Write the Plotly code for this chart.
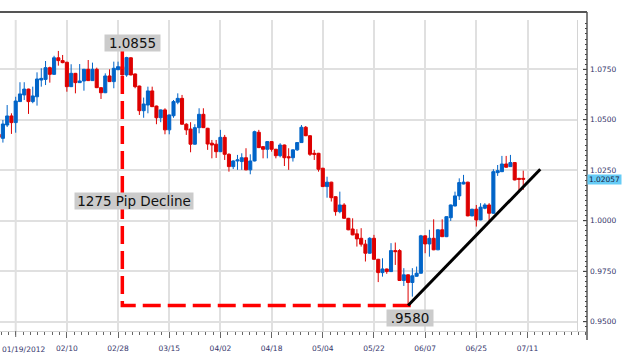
import plotly.graph_objects as go

# ---------------- data ----------------
bar_index = list(range(-4, 120))

opens = [1.0428, 1.0408, 1.0474, 1.0519, 1.0486, 1.0590, 1.0623, 1.0652, 1.0590, 1.0614,
         1.0697, 1.0700, 1.0758, 1.0725, 1.0807, 1.0793, 1.0785, 1.0664, 1.0730, 1.0684,
         1.0692, 1.0750, 1.0694, 1.0750, 1.0659, 1.0634, 1.0717, 1.0689, 1.0748, 1.0763,
         1.0722, 1.0807, 1.0727, 1.0667, 1.0545, 1.0573, 1.0643, 1.0568, 1.0510, 1.0549,
         1.0450, 1.0520, 1.0587, 1.0606, 1.0478, 1.0454, 1.0379, 1.0461, 1.0527, 1.0458,
         1.0384, 1.0379, 1.0342, 1.0413, 1.0329, 1.0268, 1.0296, 1.0293, 1.0312, 1.0252,
         1.0296, 1.0438, 1.0367, 1.0354, 1.0392, 1.0354, 1.0322, 1.0375, 1.0317, 1.0312,
         1.0351, 1.0387, 1.0463, 1.0421, 1.0334, 1.0334, 1.0260, 1.0169, 1.0191, 1.0119,
         1.0045, 1.0078, 1.0012, 0.9959, 0.9935, 0.9913, 0.9884, 0.9839, 0.9913, 0.9809,
         0.9743, 0.9761, 0.9748, 0.9852, 0.9852, 0.9704, 0.9732, 0.9694, 0.9725, 0.9740,
         0.9925, 0.9885, 0.9913, 0.9856, 0.9955, 0.9921, 1.0015, 1.0073, 1.0123, 1.0182,
         1.0191, 1.0024, 1.0057, 1.0004, 1.0062, 1.0078, 1.0037, 1.0238, 1.0243, 1.0281,
         1.0268, 1.0288, 1.0210, 1.0210]

highs = [1.0435, 1.0499, 1.0573, 1.0532, 1.0614, 1.0686, 1.0686, 1.0654, 1.0664, 1.0735,
         1.0755, 1.0791, 1.0763, 1.0817, 1.0841, 1.0821, 1.0787, 1.0775, 1.0732, 1.0776,
         1.0752, 1.0796, 1.0783, 1.0758, 1.0661, 1.0730, 1.0750, 1.0788, 1.0788, 1.0841,
         1.0812, 1.0810, 1.0729, 1.0669, 1.0610, 1.0664, 1.0664, 1.0570, 1.0551, 1.0557,
         1.0526, 1.0598, 1.0631, 1.0623, 1.0483, 1.0488, 1.0478, 1.0557, 1.0557, 1.0460,
         1.0400, 1.0400, 1.0450, 1.0425, 1.0334, 1.0300, 1.0326, 1.0334, 1.0359, 1.0329,
         1.0446, 1.0450, 1.0369, 1.0394, 1.0394, 1.0356, 1.0384, 1.0377, 1.0359, 1.0353,
         1.0389, 1.0474, 1.0469, 1.0423, 1.0351, 1.0336, 1.0262, 1.0218, 1.0193, 1.0121,
         1.0144, 1.0087, 1.0014, 1.0012, 0.9958, 0.9963, 0.9905, 0.9918, 0.9930, 0.9811,
         0.9814, 0.9763, 0.9889, 0.9892, 0.9859, 0.9765, 0.9734, 0.9765, 0.9773, 0.9930,
         0.9927, 0.9955, 1.0007, 0.9957, 1.0007, 1.0022, 1.0080, 1.0144, 1.0210, 1.0227,
         1.0193, 1.0059, 1.0078, 1.0087, 1.0087, 1.0087, 1.0255, 1.0276, 1.0321, 1.0321,
         1.0326, 1.0290, 1.0212, 1.0248]

lows = [1.0410, 1.0387, 1.0464, 1.0430, 1.0436, 1.0588, 1.0598, 1.0529, 1.0582, 1.0570,
        1.0664, 1.0672, 1.0684, 1.0723, 1.0768, 1.0780, 1.0639, 1.0662, 1.0631, 1.0682,
        1.0644, 1.0692, 1.0692, 1.0657, 1.0603, 1.0632, 1.0687, 1.0656, 1.0746, 1.0720,
        1.0713, 1.0720, 1.0656, 1.0524, 1.0510, 1.0532, 1.0563, 1.0478, 1.0488, 1.0428,
        1.0428, 1.0510, 1.0577, 1.0476, 1.0425, 1.0339, 1.0377, 1.0433, 1.0459, 1.0351,
        1.0309, 1.0311, 1.0340, 1.0301, 1.0243, 1.0256, 1.0252, 1.0252, 1.0250, 1.0230,
        1.0294, 1.0360, 1.0309, 1.0309, 1.0342, 1.0309, 1.0314, 1.0271, 1.0252, 1.0293,
        1.0346, 1.0385, 1.0419, 1.0321, 1.0301, 1.0243, 1.0167, 1.0114, 1.0095, 1.0025,
        1.0037, 1.0010, 0.9953, 0.9928, 0.9872, 0.9872, 0.9798, 0.9837, 0.9807, 0.9696,
        0.9723, 0.9737, 0.9746, 0.9781, 0.9702, 0.9677, 0.9580, 0.9624, 0.9723, 0.9738,
        0.9839, 0.9822, 0.9854, 0.9854, 0.9919, 0.9919, 0.9999, 1.0071, 1.0103, 1.0180,
        1.0022, 1.0022, 0.9971, 1.0002, 1.0057, 0.9999, 1.0035, 1.0222, 1.0241, 1.0263,
        1.0266, 1.0200, 1.0149, 1.0153]

closes = [1.0413, 1.0479, 1.0519, 1.0486, 1.0593, 1.0628, 1.0652, 1.0590, 1.0618, 1.0702,
          1.0705, 1.0758, 1.0725, 1.0807, 1.0793, 1.0783, 1.0664, 1.0730, 1.0684, 1.0692,
          1.0750, 1.0694, 1.0750, 1.0659, 1.0634, 1.0717, 1.0689, 1.0755, 1.0763, 1.0722,
          1.0808, 1.0722, 1.0664, 1.0545, 1.0578, 1.0643, 1.0565, 1.0510, 1.0549, 1.0450,
          1.0524, 1.0590, 1.0606, 1.0478, 1.0450, 1.0379, 1.0461, 1.0527, 1.0461, 1.0380,
          1.0375, 1.0342, 1.0413, 1.0329, 1.0268, 1.0296, 1.0301, 1.0312, 1.0252, 1.0296,
          1.0441, 1.0362, 1.0354, 1.0392, 1.0354, 1.0322, 1.0375, 1.0312, 1.0312, 1.0351,
          1.0387, 1.0463, 1.0421, 1.0329, 1.0329, 1.0255, 1.0169, 1.0191, 1.0114, 1.0045,
          1.0078, 1.0012, 0.9955, 0.9930, 0.9910, 0.9884, 0.9839, 0.9913, 0.9809, 0.9743,
          0.9761, 0.9748, 0.9852, 0.9847, 0.9704, 0.9732, 0.9694, 0.9727, 0.9740, 0.9925,
          0.9885, 0.9913, 0.9856, 0.9955, 0.9921, 1.0020, 1.0078, 1.0123, 1.0189, 1.0191,
          1.0024, 1.0057, 1.0004, 1.0067, 1.0078, 1.0037, 1.0243, 1.0248, 1.0281, 1.0265,
          1.0288, 1.0202, 1.0205, 1.02057]

date_tick_index = [0, 12, 24, 36, 48, 60, 72, 84, 96, 108, 120]
date_tick_labels = ["01/19/2012", "02/10", "02/28", "03/15", "04/02",
                    "04/18", "05/04", "05/22", "06/07", "06/25", "07/11"]
price_ticks = [0.95, 0.975, 1.0, 1.025, 1.05, 1.075]
price_tick_labels = ["0.9500", "0.9750", "1.0000", "1.0250", "1.0500", "1.0750"]

decline_x = [25, 25, 94]
decline_y = [1.0841, 0.9580, 0.9580]
trend_x = [92, 123]
trend_y = [0.9580, 1.0255]
last_price = 1.02057

high_label = "1.0855"
low_label = ".9580"
decline_label = "1275 Pip Decline"

# ---------------- figure ----------------
W, H = 624, 357
PL, PR, PT, PB = 0, 587, 20, 331          # plot area in px
pw, ph = PR - PL, PB - PT


def px_x(x):
    return (x - PL) / pw


def px_y(y):
    return (PB - y) / ph


BLUE = "#0064c8"
RED = "#dd0000"
GRID = "#e0e0e0"
AXTXT = "#35356b"

fig = go.Figure()

fig.add_trace(go.Candlestick(
    x=bar_index, open=opens, high=highs, low=lows, close=closes,
    increasing=dict(line=dict(color=BLUE, width=1), fillcolor=BLUE),
    decreasing=dict(line=dict(color=RED, width=1), fillcolor=RED),
    whiskerwidth=0, showlegend=False, hoverinfo="skip",
))

fig.add_trace(go.Scatter(
    x=decline_x, y=decline_y, mode="lines",
    line=dict(color="#ff0000", width=3.5, dash="18px,7px"),
    showlegend=False, hoverinfo="skip",
))

fig.add_trace(go.Scatter(
    x=trend_x, y=trend_y, mode="lines",
    line=dict(color="#000000", width=3),
    showlegend=False, hoverinfo="skip",
))

# x range: bar i centred at 15.7 + 4.265*i px
x_left = (PL - 15.7) / 4.265
x_right = (PR - 15.7) / 4.265
# y range: 1.075 at 69.3 px, 2019 px per unit
y_top = 1.075 + (69.3 - PT) / 2019
y_bot = 1.075 - (PB - 69.3) / 2019

fig.update_layout(
    width=W, height=H,
    margin=dict(l=PL, r=W - PR, t=PT, b=H - PB, pad=0),
    paper_bgcolor="white", plot_bgcolor="white",
    boxgap=0.1, boxgroupgap=0.2,
    xaxis=dict(
        range=[x_left, x_right], rangeslider=dict(visible=False),
        tickmode="array", tickvals=date_tick_index[1:], ticktext=date_tick_labels[1:],
        showgrid=True, gridcolor=GRID, gridwidth=2,
        zeroline=False, showline=True, linecolor="#d4d4d4", linewidth=1,
        ticks="outside", ticklen=6, tickcolor="#666666", tickwidth=1,
        minor=dict(tickmode="linear", tick0=0, dtick=12 / 7, ticks="outside",
                   ticklen=3, tickcolor="#666666", showgrid=False),
        tickfont=dict(family="DejaVu Sans", size=7.5, color=AXTXT),
        ticklabelstandoff=4, ticklabeloverflow="allow",
        fixedrange=True,
    ),
    yaxis=dict(
        range=[y_bot, y_top], side="right",
        tickmode="array", tickvals=price_ticks, ticktext=price_tick_labels,
        showgrid=True, gridcolor=GRID, gridwidth=2,
        zeroline=False, showline=False,
        ticks="inside", ticklen=4, tickcolor="#444444", tickwidth=1,
        minor=dict(tickmode="linear", tick0=0.95, dtick=0.0025, ticks="inside",
                   ticklen=2, tickcolor="#444444", showgrid=False),
        tickfont=dict(family="DejaVu Sans", size=7.5, color=AXTXT),
        ticklabelstandoff=2,
        fixedrange=True,
    ),
    shapes=[
        # first-date gridline and tick (its label is drawn left-aligned below)
        dict(type="line", xref="x", yref="paper", x0=date_tick_index[0], x1=date_tick_index[0],
             y0=0, y1=1, line=dict(color=GRID, width=2), layer="below"),
        dict(type="line", xref="x", yref="paper", x0=date_tick_index[0], x1=date_tick_index[0],
             y0=0, y1=px_y(337), line=dict(color="#666666", width=1), layer="above"),
        # white strip between the grid area and the price axis
        dict(type="rect", xref="paper", yref="paper", x0=px_x(577.5), x1=px_x(583),
             y0=0, y1=1, fillcolor="white", line=dict(width=0), layer="above"),
        # light frame of grid area
        dict(type="line", xref="paper", yref="paper", x0=px_x(577.5), x1=px_x(577.5),
             y0=0, y1=1, line=dict(color="#d4d4d4", width=1), layer="above"),
        # dark outer frame (top and right)
        dict(type="line", xref="paper", yref="paper", x0=0, x1=px_x(587),
             y0=px_y(12), y1=px_y(12), line=dict(color="#555555", width=2), layer="above"),
        dict(type="line", xref="paper", yref="paper", x0=px_x(587), x1=px_x(587),
             y0=px_y(12), y1=px_y(340), line=dict(color="#555555", width=1.5), layer="above"),
    ],
    annotations=[
        dict(x=0, y=px_y(349), xref="paper", yref="paper", xanchor="left", yanchor="middle",
             text=date_tick_labels[0], showarrow=False,
             font=dict(family="DejaVu Sans", size=7.5, color=AXTXT)),
        dict(x=27.4, y=1.0880, xref="x", yref="y", text=high_label, showarrow=False,
             font=dict(family="DejaVu Sans", size=13.5, color="#111111"),
             bgcolor="#cbcbcb", width=55, height=16, borderpad=0),
        dict(x=27.7, y=1.0098, xref="x", yref="y", text=decline_label, showarrow=False,
             font=dict(family="DejaVu Sans", size=13.5, color="#111111"),
             bgcolor="#cbcbcb", width=118, height=16, borderpad=0),
        dict(x=92.4, y=0.9518, xref="x", yref="y", text=low_label, showarrow=False,
             font=dict(family="DejaVu Sans", size=13.5, color="#111111"),
             bgcolor="#cbcbcb", width=46, height=16, borderpad=0),
        dict(x=1, y=last_price, xref="paper", yref="y", xanchor="left", text="1.02057",
             showarrow=False, font=dict(family="DejaVu Sans", size=7.5, color="#1a1a40"),
             bgcolor="#66ccf6", width=33, height=9, borderpad=0),
    ],
)

fig.write_html("out.html", config={"displayModeBar": False},
               post_script="document.body.style.margin='0';document.body.style.padding='0';")
